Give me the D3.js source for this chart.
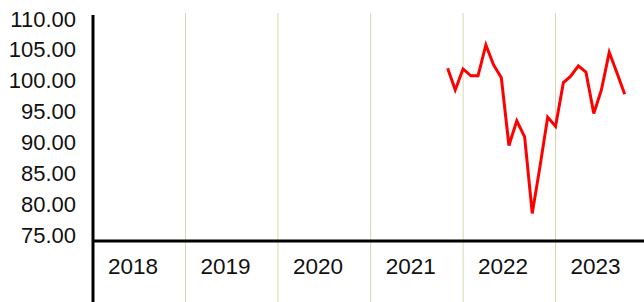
<!DOCTYPE html>
<html lang="en">
<head>
    <meta charset="UTF-8">
    <title>Index chart</title>
    <script src="https://d3js.org/d3.v7.min.js"></script>
    <style>
        html, body { margin: 0; padding: 0; background: #fff; }
        svg { display: block; font-family: "Liberation Sans", Arial, sans-serif; }
    </style>
</head>
<body>
    <div id="chart"></div>
    <script>
        // year bands on the x axis
        const years = [2018, 2019, 2020, 2021, 2022, 2023];
        // y tick labels
        const yTicks = [75, 80, 85, 90, 95, 100, 105, 110];
        // monthly readings, Nov 2021 .. Oct 2023
        const months = ["2021-11", "2021-12",
            "2022-01", "2022-02", "2022-03", "2022-04", "2022-05", "2022-06",
            "2022-07", "2022-08", "2022-09", "2022-10", "2022-11", "2022-12",
            "2023-01", "2023-02", "2023-03", "2023-04", "2023-05", "2023-06",
            "2023-07", "2023-08", "2023-09", "2023-10"];
        const values = [102.0, 98.5, 101.9, 100.8, 100.8, 105.8, 102.6, 100.5,
            89.5, 93.5, 90.9, 78.5, 86.2, 94.1,
            92.6, 99.7, 100.7, 102.4, 101.4, 94.7, 98.5, 104.6, 101.2, 97.8];

        const width = 644, height = 302;
        const axisX = 93, axisY = 241;

        const parse = d3.timeParse("%Y-%m");
        const data = months.map((m, i) => ({ date: parse(m), value: values[i] }));

        const x = d3.scaleTime()
            .domain([new Date(years[0], 0, 1), new Date(years[years.length - 1] + 1, 0, 1)])
            .range([axisX, 648]);
        const y = d3.scaleLinear().domain([75, 110]).range([235, 19]);

        const svg = d3.select("#chart").append("svg")
            .attr("width", width)
            .attr("height", height);

        // vertical year separators
        svg.append("g").selectAll("line")
            .data(years.slice(1))
            .enter().append("line")
            .attr("x1", d => x(new Date(d, 0, 1)))
            .attr("x2", d => x(new Date(d, 0, 1)))
            .attr("y1", 13)
            .attr("y2", height)
            .attr("stroke", "#d6d6ad")
            .attr("stroke-width", 1);

        // y axis labels
        const yAxis = svg.append("g")
            .attr("transform", `translate(${axisX - 17},0)`)
            .call(d3.axisLeft(y).tickValues(yTicks).tickFormat(d3.format(".2f")).tickSize(0).tickPadding(0));
        yAxis.select(".domain").remove();
        yAxis.selectAll("text")
            .attr("font-size", 22)
            .attr("font-family", "Liberation Sans, Arial, sans-serif")
            .attr("fill", "#111");

        // year labels
        svg.append("g").selectAll("text")
            .data(years)
            .enter().append("text")
            .attr("x", d => x(new Date(d, 0, 1)) + 15)
            .attr("y", 273.5)
            .attr("font-size", 22.5)
            .attr("fill", "#111")
            .text(d => d);

        // the series
        const line = d3.line()
            .x(d => x(d.date))
            .y(d => y(d.value));

        svg.append("path")
            .datum(data)
            .attr("fill", "none")
            .attr("stroke", "#ff0000")
            .attr("stroke-width", 3)
            .attr("stroke-linejoin", "miter")
            .attr("d", line);

        // axis lines
        svg.append("line")
            .attr("x1", axisX).attr("x2", axisX)
            .attr("y1", 15).attr("y2", height)
            .attr("stroke", "#000").attr("stroke-width", 3);
        svg.append("line")
            .attr("x1", axisX).attr("x2", width)
            .attr("y1", axisY).attr("y2", axisY)
            .attr("stroke", "#000").attr("stroke-width", 3);
    </script>
</body>
</html>
